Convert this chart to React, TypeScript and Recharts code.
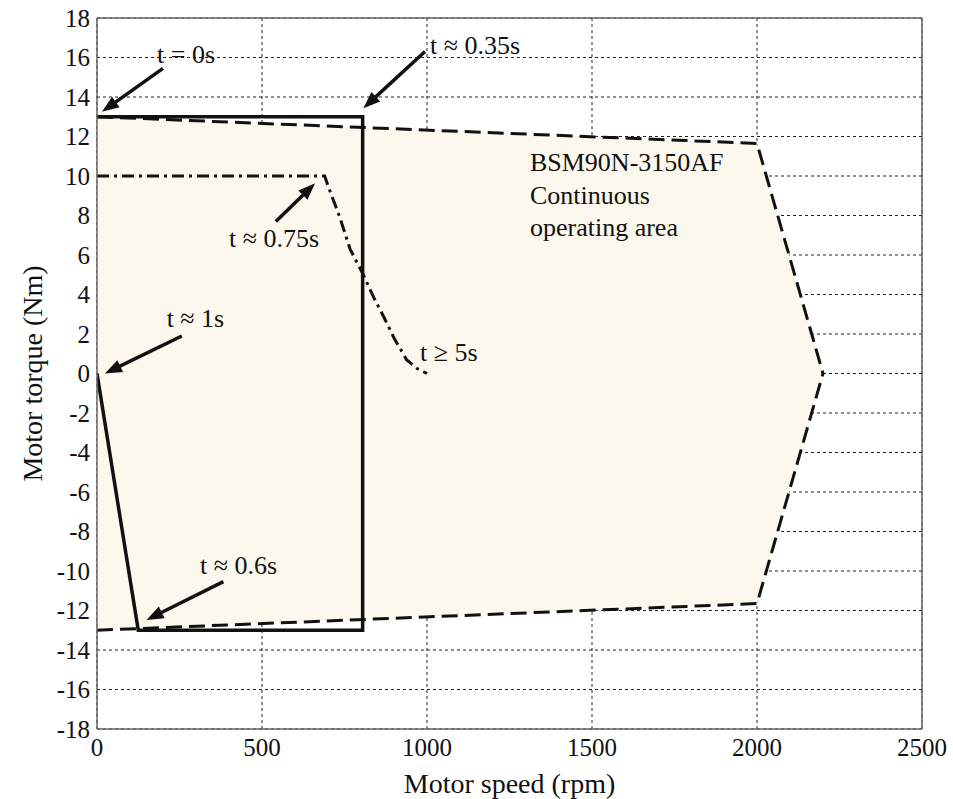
import React from 'react';
import {
  ComposedChart, CartesianGrid, XAxis, YAxis, Area, Line,
  ReferenceLine, ReferenceDot, Label,
} from 'recharts';

// axis ticks
const speedTicks = [0, 500, 1000, 1500, 2000, 2500];
const torqueTicks = [-18, -16, -14, -12, -10, -8, -6, -4, -2, 0, 2, 4, 6, 8, 10, 12, 14, 16, 18];

// continuous operating area of the motor (upper / lower torque limits)
const areaRpm = [0, 2000, 2200];
const areaUpper = [13, 11.65, 0];
const areaLower = [-13, -11.65, 0];

// solid trajectory (start-up / braking cycle)
const cycleRpm = [0, 805, 805, 125, 0];
const cycleTorque = [13, 13, -13, -13, 0];

// dash-dot trajectory (run-up to steady state)
const steadyRpm = [0, 690, 700, 736, 767, 807, 840, 868, 900, 938, 970, 1000];
const steadyTorque = [10, 10, 9.5, 7.9, 6.3, 5.0, 3.8, 2.9, 1.8, 0.7, 0.25, 0];

// annotations: text anchor (left, middle) and arrow tail -> head
const notes = [
  { text: 't = 0s', x: 182, y: 16.2, arrow: [200, 15.45, 15, 13.25] },
  { text: 't ≈ 0.35s', x: 1009, y: 16.63, arrow: [994, 16.3, 807, 13.43] },
  { text: 't ≈ 0.75s', x: 400, y: 6.86, arrow: [542, 7.7, 661, 9.63] },
  { text: 't ≈ 1s', x: 211, y: 2.81, arrow: [257, 1.9, 24, 0] },
  { text: 't ≥ 5s', x: 979, y: 1.09, arrow: null },
  { text: 't ≈ 0.6s', x: 312, y: -9.7, arrow: [383, -10.54, 150, -12.48] },
];
const areaCaption = ['BSM90N-3150AF', 'Continuous', 'operating area'];
const captionRpm = 1312;
const captionTorque = [10.72, 9.04, 7.43];

const areaData = areaRpm.map((rpm, i) => ({ rpm, range: [areaLower[i], areaUpper[i]] }));
const cycleData = cycleRpm.map((rpm, i) => ({ rpm, torque: cycleTorque[i] }));
const steadyData = steadyRpm.map((rpm, i) => ({ rpm, torque: steadyTorque[i] }));

const W = 953, H = 799;
const margin = { top: 17, right: 30, left: 0, bottom: 0 };
const serif = '"Liberation Serif", "Times New Roman", serif';
const ink = '#111';
const frame = { stroke: '#666', strokeWidth: 1.5 };

const Arrow = (p: any) => {
  const { x1, y1, x2, y2 } = p;
  const a = Math.atan2(y2 - y1, x2 - x1);
  const len = 17, half = 6.5;
  const bx = x2 - len * Math.cos(a), by = y2 - len * Math.sin(a);
  const nx = -Math.sin(a) * half, ny = Math.cos(a) * half;
  return (
    <g>
      <line x1={x1} y1={y1} x2={bx + 2 * Math.cos(a)} y2={by + 2 * Math.sin(a)} stroke={ink} strokeWidth={3.5} />
      <polygon points={`${x2},${y2} ${bx + nx},${by + ny} ${bx - nx},${by - ny}`} fill={ink} />
    </g>
  );
};

const noteText = (text: string, size: number) => (p: any) => (
  <text x={p.cx} y={p.cy} dy="0.35em" fontSize={size} fill={ink} style={{ fontFamily: serif }}>{text}</text>
);

const XTick = (p: any) => (
  <text x={p.x} y={p.y} dy="0.75em" textAnchor="middle" fontSize={25} fill={ink} style={{ fontFamily: serif }}>
    {p.payload.value}
  </text>
);
const YTick = (p: any) => (
  <text x={p.x} y={p.y} dy="0.35em" textAnchor="end" fontSize={25} fill={ink} style={{ fontFamily: serif }}>
    {p.payload.value}
  </text>
);
const NoTick = () => <g />;

// bottom layer: only the dotted grid, so the operating-area fill can cover it
const GridLayer = () => (
  <ComposedChart width={W} height={H} margin={margin}>
    <CartesianGrid stroke="#222" strokeWidth={1} strokeDasharray="3 3" />
    <XAxis dataKey="rpm" type="number" domain={[0, 2500]} ticks={speedTicks} height={70}
      tick={NoTick} tickLine={false} axisLine={false} />
    <YAxis type="number" domain={[-18, 18]} ticks={torqueTicks} width={97}
      tick={NoTick} tickLine={false} axisLine={false} />
    <XAxis xAxisId="top" orientation="top" type="number" domain={[0, 2500]} height={1}
      tick={false} tickLine={false} axisLine={false} />
    <YAxis yAxisId="right" orientation="right" type="number" domain={[-18, 18]} width={1}
      tick={false} tickLine={false} axisLine={false} />
    <Line data={cycleData} dataKey="torque" stroke="none" dot={false} isAnimationActive={false} />
  </ComposedChart>
);

export default function App() {
  return (
    <div style={{ position: 'absolute', left: 0, top: 0, width: W, height: H, background: '#fff' }}>
      <div style={{ position: 'absolute', left: 0, top: 0 }}>
        <GridLayer />
      </div>
      <div style={{ position: 'absolute', left: 0, top: 0 }}>
        <ComposedChart width={W} height={H} margin={margin}>
          <XAxis
            dataKey="rpm" type="number" domain={[0, 2500]} ticks={speedTicks} height={70}
            tickLine={false} tickSize={0} tickMargin={8} allowDataOverflow
            axisLine={frame} tick={XTick}
          >
            <Label value="Motor speed (rpm)" position="insideBottom" offset={6}
              style={{ fontFamily: serif, fontSize: 28, fill: ink }} />
          </XAxis>
          <YAxis
            type="number" domain={[-18, 18]} ticks={torqueTicks} width={97}
            tickLine={false} tickSize={0} tickMargin={7} allowDataOverflow
            axisLine={frame} tick={YTick}
          >
            <Label
              content={({ viewBox }: any) => {
                const cy = viewBox.y + viewBox.height / 2;
                return (
                  <text x={32} y={cy} transform={`rotate(-90, 32, ${cy})`} textAnchor="middle" dy="0.35em"
                    fontSize={28} fill={ink} style={{ fontFamily: serif }}>Motor torque (Nm)</text>
                );
              }}
            />
          </YAxis>
          <XAxis xAxisId="top" orientation="top" type="number" domain={[0, 2500]} height={1}
            tick={false} tickLine={false} axisLine={frame} />
          <YAxis yAxisId="right" orientation="right" type="number" domain={[-18, 18]} width={1}
            tick={false} tickLine={false} axisLine={frame} />

          <Area data={areaData} dataKey="range" type="linear" fill="#fdf8ed" fillOpacity={1}
            stroke={ink} strokeWidth={3} strokeDasharray="16 7" isAnimationActive={false} />
          <Line data={steadyData} dataKey="torque" type="linear" stroke={ink} strokeWidth={3}
            strokeDasharray="12 5 3 5" dot={false} isAnimationActive={false} />
          <Line data={cycleData} dataKey="torque" type="linear" stroke={ink} strokeWidth={3.5}
            dot={false} isAnimationActive={false} />

          {notes.filter(n => n.arrow).map(n => (
            <ReferenceLine key={'a' + n.text}
              segment={[{ x: n.arrow![0], y: n.arrow![1] }, { x: n.arrow![2], y: n.arrow![3] }]}
              shape={Arrow} ifOverflow="visible" />
          ))}
          {notes.map(n => (
            <ReferenceDot key={'t' + n.text} x={n.x} y={n.y} r={0} ifOverflow="visible"
              shape={noteText(n.text, 26)} />
          ))}
          {areaCaption.map((line, i) => (
            <ReferenceDot key={line} x={captionRpm} y={captionTorque[i]} r={0} ifOverflow="visible"
              shape={noteText(line, 26)} />
          ))}
        </ComposedChart>
      </div>
    </div>
  );
}
